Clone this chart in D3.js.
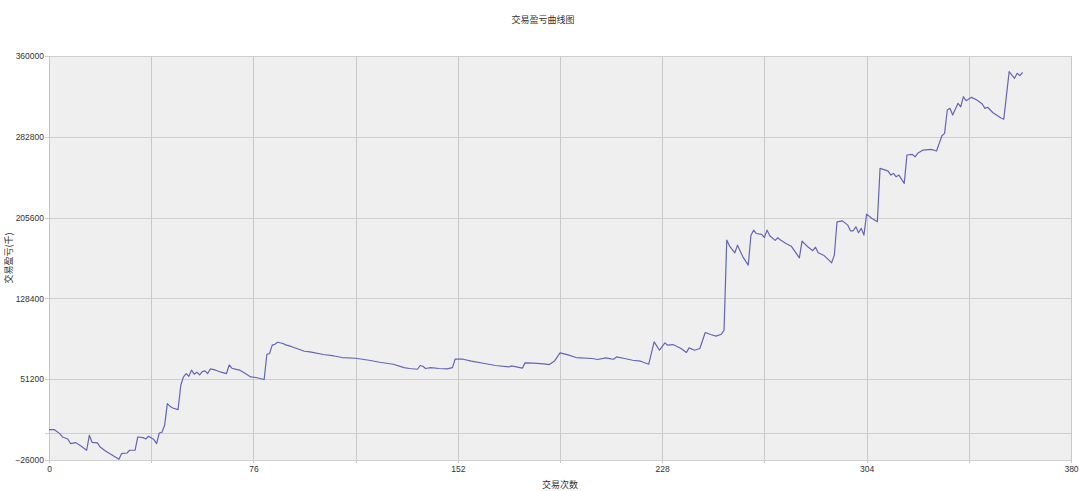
<!DOCTYPE html>
<html>
<head>
<meta charset="utf-8">
<script src="https://cdn.jsdelivr.net/npm/d3@7/dist/d3.min.js"></script>
<style>
  html, body { margin: 0; padding: 0; background: #ffffff; }
  svg { display: block; }
  text { font-family: "Liberation Sans", "Noto Sans CJK SC", sans-serif; fill: #333; }
</style>
</head>
<body>
<svg id="chart" width="1080" height="491"></svg>
<script>
// ---- data ----
const chartTitle = "交易盈亏曲线图";
const xTitle = "交易次数";
const yTitle = "交易盈亏(千)";

const trades = [0,2,4,5,7,8,10,12,14,15,16,18,19,21,23,26,27,29,30,32,33,35,36,37,39,40,41,42,43,44,45,46,48,49,50,51,52,53,54,55,56,57,58,59,60,62,64,66,67,68,70,71,73,75,77,80,81,82,83,84,85,87,88,90,
95,97,102,106,109,114,119,123,128,132,134,137,138,139,140,142,145,148,150,151,154,157,162,166,171,172,176,177,180,184,186,188,190,193,196,
202,204,207,209,210,211,214,217,220,223,225,227,229,230,232,235,237,238,240,242,244,246,248,250,251,252,253,255,256,258,260,261,262,263,265,266,267,268,270,271,272,274,276,277,279,280,282,284,285,286,288,290,291,292,293,295,297,298,299,300,301,302,303,304,306,308,309,311,312,313,314,315,316,318,319,321,322,323,325,328,330,331,332,333,334,335,336,338,339,340,341,343,345,347,348,349,351,354,355,357,359,360,361,362];

const pnl = [3000,3000,-800,-4000,-5900,-10300,-9400,-12900,-16700,-2400,-9100,-9700,-13600,-17400,-20600,-25300,-19900,-19300,-16700,-16700,-4000,-4600,-5900,-3300,-6500,-10300,-200,500,7200,27900,25300,23700,22200,45400,53400,56600,54000,59800,56000,57900,55300,58500,59100,56600,61000,59800,57900,56600,64800,61700,60400,59800,56600,53400,52800,50900,75000,75700,83700,84600,86500,85300,84000,82500,
77900,77300,74800,73400,71900,71200,69300,67400,65500,62300,61400,60700,64300,63600,61400,62300,61400,61000,62300,70300,70300,68400,66200,64300,62900,63900,61700,66800,66500,65800,65200,68700,76300,74400,71900,
71000,70000,71500,70600,70300,72500,71000,69300,68400,65500,86800,78900,85900,83700,84300,80500,76700,81100,78900,80500,95800,93900,92300,94200,98000,184100,178600,172000,179300,168100,160200,188800,193600,190400,189500,186600,193600,188200,183800,186300,184100,180900,178300,174500,167200,183100,178000,174000,177300,172000,169700,165000,162400,169700,201600,202500,198400,193000,193000,196800,191100,195300,188900,208900,204800,201600,252600,251000,250000,246200,247800,244600,246200,238300,265400,266000,263700,267000,270100,270800,269200,276500,283800,286100,308400,310000,303600,314800,311500,321100,317300,320500,318000,314100,310000,311000,305800,300700,299500,345000,338700,343500,341200,344400];

const xTicks = [0, 76, 152, 228, 304, 380];
const xGridLines = [0, 38, 76, 114, 152, 190, 228, 266, 304, 342, 380];
const yTicks = [-26000, 51200, 128400, 205600, 282800, 360000];
const yExtraLines = [0];

// ---- layout ----
const svg = d3.select("#chart");
const pLeft = 49, pRight = 1071, pTop = 56, pBottom = 460;

const x = d3.scaleLinear().domain([0, 380]).range([pLeft, pRight]);
const y = d3.scaleLinear().domain([-26000, 360000]).range([pBottom, pTop]);

// plot background
svg.append("rect")
  .attr("x", pLeft).attr("y", pTop)
  .attr("width", pRight - pLeft).attr("height", pBottom - pTop)
  .attr("fill", "#efeff0");

// vertical grid lines (extend slightly below as ticks)
svg.append("g").selectAll("line").data(xGridLines).join("line")
  .attr("x1", d => Math.round(x(d)) + 0.5).attr("x2", d => Math.round(x(d)) + 0.5)
  .attr("y1", pTop).attr("y2", pBottom + 3)
  .attr("stroke", "#c9c9c9").attr("stroke-width", 1);

// horizontal grid lines
svg.append("g").selectAll("line").data(yTicks.concat(yExtraLines)).join("line")
  .attr("x1", pLeft - 4).attr("x2", pRight)
  .attr("y1", d => Math.round(y(d)) + 0.5).attr("y2", d => Math.round(y(d)) + 0.5)
  .attr("stroke", "#cfcfcf").attr("stroke-width", 1);

// left axis line
svg.append("line")
  .attr("x1", pLeft + 0.5).attr("x2", pLeft + 0.5)
  .attr("y1", pTop).attr("y2", pBottom)
  .attr("stroke", "#c4c4c4");

// y axis labels via d3 axis
const yAxis = d3.axisLeft(y).tickValues(yTicks).tickFormat(d3.format("d")).tickSize(0).tickPadding(5);
const gy = svg.append("g").attr("transform", `translate(${pLeft},0)`).call(yAxis);
gy.select(".domain").remove();
gy.selectAll("text").style("font-size", "8.5px").attr("fill", "#333")
  .style("font-family", "'Liberation Sans', sans-serif");

// x axis labels
const xAxis = d3.axisBottom(x).tickValues(xTicks).tickFormat(d3.format("d")).tickSize(0).tickPadding(6);
const gx = svg.append("g").attr("transform", `translate(0,${pBottom})`).call(xAxis);
gx.select(".domain").remove();
gx.selectAll("text").style("font-size", "8.5px").attr("fill", "#333")
  .style("font-family", "'Liberation Sans', sans-serif");

// line
const pts = trades.map((t, i) => [t, pnl[i]]);
const line = d3.line().x(d => x(d[0])).y(d => y(d[1]));
svg.append("path")
  .datum(pts)
  .attr("d", line)
  .attr("fill", "none")
  .attr("stroke", "#6464b8")
  .attr("stroke-width", 1.2)
  .attr("stroke-linejoin", "round");

// titles
svg.append("text")
  .attr("x", 543).attr("y", 19)
  .attr("text-anchor", "middle").attr("dominant-baseline", "central")
  .style("font-size", "9px")
  .style("font-family", "'Noto Sans CJK SC', sans-serif")
  .text(chartTitle);

svg.append("text")
  .attr("x", (pLeft + pRight) / 2).attr("y", 484)
  .attr("text-anchor", "middle").attr("dominant-baseline", "central")
  .style("font-size", "9px")
  .style("font-family", "'Noto Sans CJK SC', sans-serif")
  .text(xTitle);

svg.append("text")
  .attr("transform", `translate(8,${(pTop + pBottom) / 2}) rotate(-90)`)
  .attr("text-anchor", "middle").attr("dominant-baseline", "central")
  .style("font-size", "9px")
  .style("font-family", "'Noto Sans CJK SC', sans-serif")
  .text(yTitle);
</script>
</body>
</html>
